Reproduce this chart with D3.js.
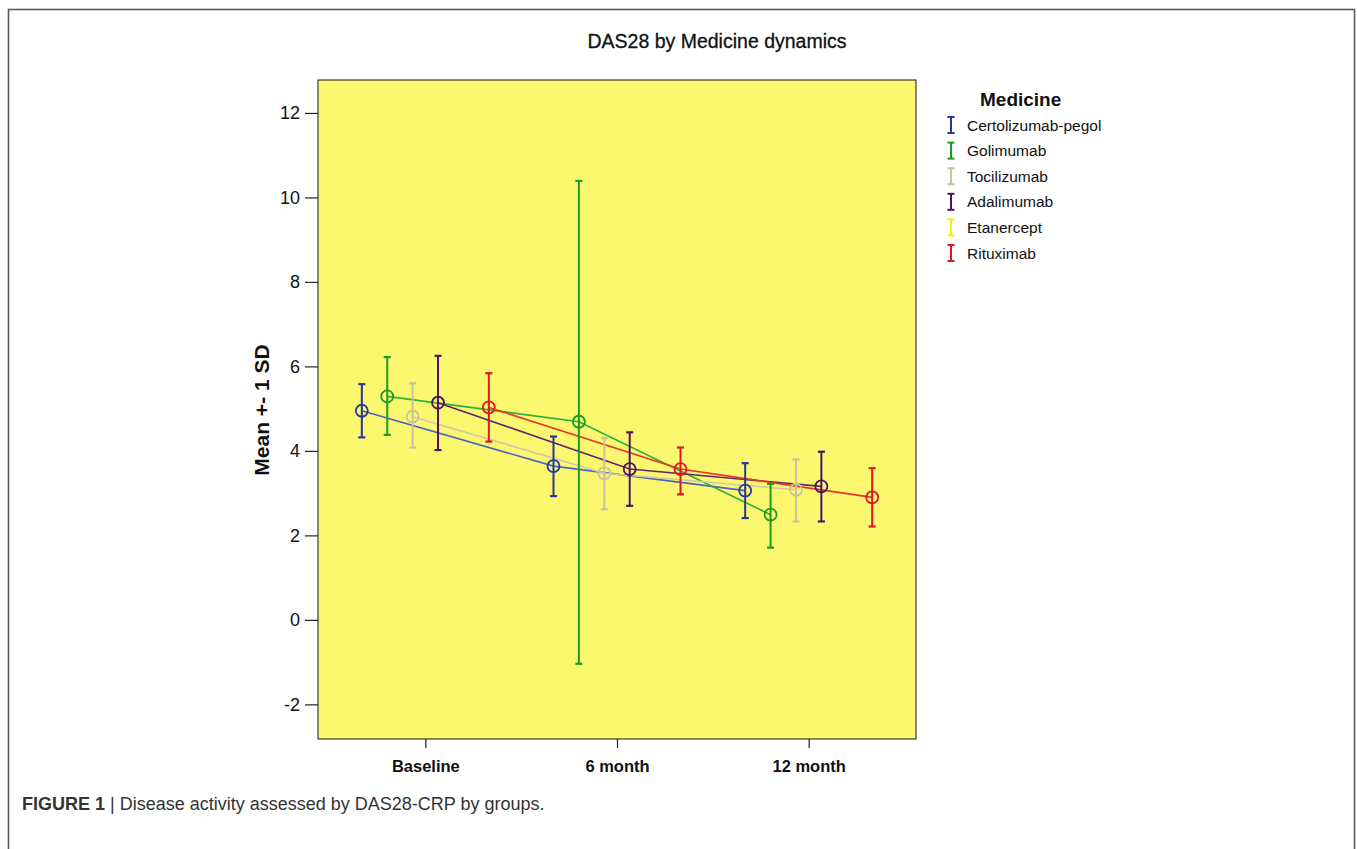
<!DOCTYPE html>
<html>
<head>
<meta charset="utf-8">
<script src="https://cdn.jsdelivr.net/npm/d3@7"></script>
<style>
  body { margin: 0; background: #fff; }
  svg text { font-family: Arial, "Liberation Sans", sans-serif; }
  .narrow text { font-family: "Liberation Sans Narrow", "Arial Narrow", Arial, sans-serif; }
</style>
</head>
<body>
<svg id="chart" width="1357" height="849"></svg>
<script>
// Data (mean, mean-1SD, mean+1SD) per time point
var timepoints = ["Baseline", "6 month", "12 month"];
var medicines = ["Certolizumab-pegol", "Golimumab", "Tocilizumab", "Adalimumab", "Etanercept", "Rituximab"];
var yTicks = [-2, 0, 2, 4, 6, 8, 10, 12];

var certolizumabMean = [4.95, 3.64, 3.06];
var certolizumabLow = [4.32, 2.93, 2.41];
var certolizumabHigh = [5.58, 4.34, 3.71];

var golimumabMean = [5.29, 4.69, 2.49];
var golimumabLow = [4.38, -1.04, 1.71];
var golimumabHigh = [6.22, 10.39, 3.22];

var tocilizumabMean = [4.81, 3.47, 3.08];
var tocilizumabLow = [4.08, 2.62, 2.33];
var tocilizumabHigh = [5.60, 4.30, 3.80];

var adalimumabMean = [5.14, 3.57, 3.16];
var adalimumabLow = [4.02, 2.70, 2.33];
var adalimumabHigh = [6.25, 4.44, 3.98];

// Etanercept only shows in the legend
var etanerceptMean = [null, null, null];
var etanerceptLow = [null, null, null];
var etanerceptHigh = [null, null, null];

var rituximabMean = [5.03, 3.57, 2.90];
var rituximabLow = [4.22, 2.97, 2.21];
var rituximabHigh = [5.84, 4.08, 3.59];

var svg = d3.select("#chart");

//Colors
var barColors = ["#28369e", "#1c9a22", "#c9c29c", "#4d1260", "#f4ef14", "#e21622"];
var lineColors = ["#4a62c4", "#2fae3a", "#cfc9a8", "#5e2472", "#f4ef14", "#e4352a"];

var series = [
    {name: medicines[0], mean: certolizumabMean, low: certolizumabLow, high: certolizumabHigh},
    {name: medicines[1], mean: golimumabMean, low: golimumabLow, high: golimumabHigh},
    {name: medicines[2], mean: tocilizumabMean, low: tocilizumabLow, high: tocilizumabHigh},
    {name: medicines[3], mean: adalimumabMean, low: adalimumabLow, high: adalimumabHigh},
    {name: medicines[4], mean: etanerceptMean, low: etanerceptLow, high: etanerceptHigh},
    {name: medicines[5], mean: rituximabMean, low: rituximabLow, high: rituximabHigh}
];

// outer frame
svg.append("rect")
    .attr("x", 8.5).attr("y", 9.5)
    .attr("width", 1346).attr("height", 850)
    .attr("fill", "none")
    .attr("stroke", "#5a5a5a")
    .attr("stroke-width", 1.6);

var plot = {left: 318, top: 80, right: 916, bottom: 739};
var width = plot.right - plot.left,
    height = plot.bottom - plot.top;

var x = d3.scalePoint().domain(timepoints).range([0, width]).padding(0.56);
var dodge = d3.scalePoint().domain(medicines).range([-63.5, 63.5]);
var y = d3.scaleLinear().domain([-2.82, 12.78]).range([height, 0]);

var g = svg.append("g").attr("transform", "translate(" + plot.left + "," + plot.top + ")");

g.append("rect")
    .attr("width", width).attr("height", height)
    .attr("fill", "#fbf76f")
    .attr("stroke", "#3a3a3a")
    .attr("stroke-width", 1.2);

// title
svg.append("text")
    .attr("x", 717).attr("y", 48)
    .attr("text-anchor", "middle")
    .attr("font-size", "19.5px")
    .attr("fill", "#111")
    .attr("stroke", "#111").attr("stroke-width", 0.3)
    .text("DAS28 by Medicine dynamics");

//--Axis adding
var yAxis = g.append("g")
    .attr("class", "narrow")
    .call(d3.axisLeft(y).tickValues(yTicks).tickSize(13).tickPadding(5).tickFormat(function(d) { return String(d); }));
yAxis.select(".domain").remove();
yAxis.selectAll("text")
    .attr("fill", "#111")
    .style("font-size", "18px");
yAxis.selectAll("line").attr("stroke", "#222").attr("stroke-width", 1.2);

var xAxis = g.append("g")
    .attr("transform", "translate(0," + height + ")")
    .call(d3.axisBottom(x).tickSize(9).tickPadding(12));
xAxis.select(".domain").remove();
xAxis.selectAll("text")
    .attr("fill", "#111")
    .style("font-size", "16.5px")
    .style("font-weight", "bold");
xAxis.selectAll("line").attr("stroke", "#222").attr("stroke-width", 1.2);

svg.append("text")
    .attr("transform", "translate(269,410) rotate(-90)")
    .attr("text-anchor", "middle")
    .attr("font-size", "21px")
    .attr("font-weight", "bold")
    .attr("fill", "#111")
    .text("Mean +- 1 SD");

var px = function(s, i) { return x(timepoints[i]) + dodge(s.name); };

var line = d3.line()
    .defined(function(d) { return d.v != null; })
    .x(function(d) { return d.x; })
    .y(function(d) { return y(d.v); });

// lines first, then error bars and markers on top
series.forEach(function(s, k) {
    var pts = s.mean.map(function(v, i) { return {x: px(s, i), v: v}; });
    g.append("path")
        .attr("d", line(pts))
        .attr("fill", "none")
        .attr("stroke", lineColors[k])
        .attr("stroke-width", 1.6);
});

series.forEach(function(s, k) {
    var sg = g.append("g");
    s.mean.forEach(function(v, i) {
        if (v == null) return;
        var cx = px(s, i);
        sg.append("line")
            .attr("x1", cx).attr("x2", cx)
            .attr("y1", y(s.low[i])).attr("y2", y(s.high[i]))
            .attr("stroke", barColors[k]).attr("stroke-width", 2);
        [s.low[i], s.high[i]].forEach(function(e) {
            sg.append("line")
                .attr("x1", cx - 3.5).attr("x2", cx + 3.5)
                .attr("y1", y(e)).attr("y2", y(e))
                .attr("stroke", barColors[k]).attr("stroke-width", 2.2);
        });
        sg.append("circle")
            .attr("cx", cx).attr("cy", y(v))
            .attr("r", 6)
            .attr("fill", "none")
            .attr("stroke", barColors[k])
            .attr("stroke-width", 1.8);
    });
});

//Legend
var legend = svg.append("g").attr("transform", "translate(951,0)");
legend.append("text")
    .attr("x", 29).attr("y", 106)
    .attr("font-size", "19px")
    .attr("font-weight", "bold")
    .attr("fill", "#111")
    .text("Medicine");
medicines.forEach(function(m, i) {
    var cy = 125 + i * 25.6;
    legend.append("line").attr("x1", 0).attr("x2", 0).attr("y1", cy - 8).attr("y2", cy + 8)
        .attr("stroke", barColors[i]).attr("stroke-width", 2);
    legend.append("line").attr("x1", -3.5).attr("x2", 3.5).attr("y1", cy - 8).attr("y2", cy - 8)
        .attr("stroke", barColors[i]).attr("stroke-width", 2);
    legend.append("line").attr("x1", -3.5).attr("x2", 3.5).attr("y1", cy + 8).attr("y2", cy + 8)
        .attr("stroke", barColors[i]).attr("stroke-width", 2);
    legend.append("text")
        .attr("x", 16).attr("y", cy + 5.5)
        .attr("font-size", "15.5px")
        .attr("fill", "#111")
        .text(m);
});

// caption
var cap = svg.append("text")
    .attr("x", 22).attr("y", 810)
    .attr("font-size", "18px")
    .attr("fill", "#333");
cap.append("tspan").attr("font-weight", "bold").text("FIGURE 1");
cap.append("tspan").text(" | Disease activity assessed by DAS28-CRP by groups.");
</script>
</body>
</html>
